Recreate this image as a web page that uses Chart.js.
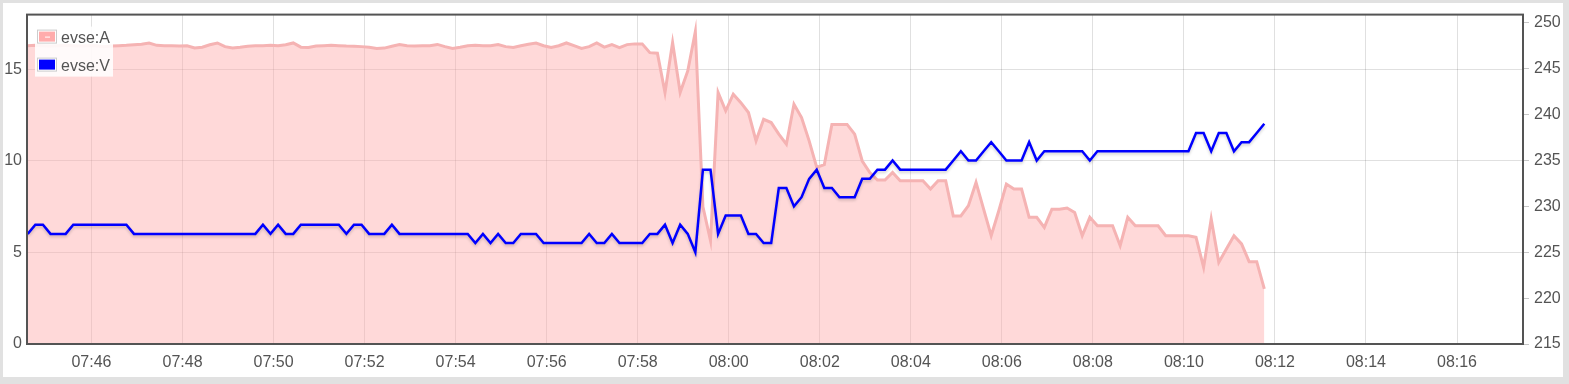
<!DOCTYPE html>
<html>
<head>
<meta charset="utf-8">
<script src="https://cdn.jsdelivr.net/npm/chart.js@4.4.1/dist/chart.umd.min.js"></script>
<style>
  html, body { margin: 0; padding: 0; background: #e1e1e1; width: 1569px; height: 384px; overflow: hidden; }
  #card { position: absolute; left: 3px; top: 3px; width: 1560px; height: 374px; background: #ffffff; }
  #c { position: absolute; left: 0; top: 0; }
</style>
</head>
<body>
<div id="card"></div>
<canvas id="c" width="1569" height="384"></canvas>
<script>
// ---------------- DATA ----------------
const seriesNames = ['evse:A', 'evse:V'];
const startTime = '07:44:36';      // time of first sample
const sampleSeconds = 10;          // sampling interval
const axisStart = '07:44:35';
const axisEnd = '08:17:27';

const ampValues = [
  16.3,16.32,16.3,16.28,16.3,16.32,16.3,16.28,16.3,16.3,
  16.25,16.28,16.3,16.32,16.35,16.38,16.45,16.32,16.3,16.3,
  16.28,16.3,16.18,16.22,16.35,16.45,16.25,16.18,16.22,16.27,
  16.3,16.3,16.32,16.3,16.35,16.45,16.22,16.2,16.28,16.3,
  16.32,16.3,16.28,16.27,16.25,16.22,16.15,16.17,16.27,16.36,
  16.3,16.28,16.3,16.3,16.37,16.25,16.15,16.22,16.3,16.32,
  16.3,16.3,16.36,16.25,16.2,16.3,16.38,16.45,16.3,16.2,
  16.3,16.45,16.3,16.15,16.25,16.45,16.22,16.36,16.2,16.36,
  16.4,16.4,15.92,15.89,13.74,16.47,13.74,14.92,17.07,7.5,
  5.65,13.74,12.74,13.65,13.19,12.65,11.1,12.28,12.1,11.47,
  10.92,13.1,12.37,11.1,9.65,9.8,12.0,12.0,12.0,11.47,
  10.0,9.37,8.96,8.96,9.37,8.92,8.92,8.92,8.92,8.47,
  8.92,8.92,7.0,7.0,7.56,8.83,7.37,5.92,7.28,8.74,
  8.47,8.47,6.92,6.92,6.37,7.37,7.37,7.43,7.19,5.92,
  6.92,6.46,6.46,6.46,5.37,6.92,6.46,6.46,6.46,6.46,
  5.92,5.92,5.92,5.92,5.83,4.19,6.83,4.46,5.19,5.92,
  5.47,4.5,4.5,3.01
];

const voltValues = [
  227,228,228,227,227,227,228,228,228,228,
  228,228,228,228,227,227,227,227,227,227,
  227,227,227,227,227,227,227,227,227,227,
  227,228,227,228,227,227,228,228,228,228,
  228,228,227,228,228,227,227,227,228,227,
  227,227,227,227,227,227,227,227,227,226,
  227,226,227,226,226,227,227,227,226,226,
  226,226,226,226,227,226,226,227,226,226,
  226,226,227,227,228,226,228,227,225,234,
  234,227,229,229,229,227,227,226,226,232,
  232,230,231,233,234,232,232,231,231,231,
  233,233,234,234,235,234,234,234,234,234,
  234,234,235,236,235,235,236,237,236,235,
  235,235,237,235,236,236,236,236,236,236,
  235,236,236,236,236,236,236,236,236,236,
  236,236,236,236,238,238,236,238,238,236,
  237,237,238,239
];

const timeTicks = ['07:46','07:48','07:50','07:52','07:54','07:56','07:58','08:00',
                   '08:02','08:04','08:06','08:08','08:10','08:12','08:14','08:16'];
const ampTicks = [0, 5, 10, 15];
const voltTicks = [215, 220, 225, 230, 235, 240, 245, 250];
const ampRange = [0, 18];
const voltRange = [215, 250.9];

// ---------------- HELPERS ----------------
function toMinutes(s) {
  const p = s.split(':').map(Number);
  return p[0] * 60 + p[1] + (p[2] || 0) / 60;
}
function fmtMinutes(v) {
  const m = Math.round(v);
  const h = Math.floor(m / 60), mm = m % 60;
  return String(h).padStart(2, '0') + ':' + String(mm).padStart(2, '0');
}
const t0 = toMinutes(startTime);
const xs = ampValues.map((_, i) => t0 + i * sampleSeconds / 60);
const ampPts = ampValues.map((v, i) => ({ x: xs[i], y: v }));
const voltPts = voltValues.map((v, i) => ({ x: xs[i], y: v }));

const FONT = "'Liberation Sans', Arial, Helvetica, sans-serif";
const TEXT = '#545454';
const GRID = 'rgba(0,0,0,0.12)';

const setTicks = (arr) => (scale) => { scale.ticks = arr.map(v => ({ value: v })); };

const shadowPlugin = {
  id: 'lineShadow',
  beforeDatasetDraw(chart, args) {
    if (args.meta.yAxisID === 'y1') {
      const ctx = chart.ctx;
      ctx.save();
      ctx.shadowColor = 'rgba(0,0,0,0.18)';
      ctx.shadowBlur = 3;
      ctx.shadowOffsetX = 0;
      ctx.shadowOffsetY = 2;
    }
  },
  afterDatasetDraw(chart, args) {
    if (args.meta.yAxisID === 'y1') chart.ctx.restore();
  }
};

const frameLegendPlugin = {
  id: 'frameLegend',
  afterDatasetsDraw(chart) {
    const { ctx, chartArea: a } = chart;
    ctx.save();
    ctx.strokeStyle = '#545454';
    ctx.lineWidth = 2;
    ctx.strokeRect(a.left, a.top, a.right - a.left, a.bottom - a.top);
    ctx.restore();
  },
  afterDraw(chart) {
    const ctx = chart.ctx;
    const a = chart.chartArea;
    const ds = chart.data.datasets;
    const bx = a.left + 8, by = a.top + 12;
    ctx.save();
    ctx.fillStyle = 'rgba(255,255,255,0.88)';
    ctx.fillRect(bx, by, 78, 50);
    ds.forEach((d, k) => {
      const sy = by + 3 + k * 28;
      ctx.fillStyle = '#ffffff';
      ctx.fillRect(bx + 2, sy, 20, 14);
      ctx.strokeStyle = '#cccccc';
      ctx.lineWidth = 1;
      ctx.strokeRect(bx + 2.5, sy + 0.5, 19, 13);
      ctx.fillStyle = d.legendColor;
      ctx.fillRect(bx + 4, sy + 2, 16, 10);
      if (d.fill) {
        ctx.strokeStyle = '#ffffff';
        ctx.beginPath();
        ctx.moveTo(bx + 10, sy + 7.5);
        ctx.lineTo(bx + 15, sy + 7.5);
        ctx.stroke();
      }
      ctx.fillStyle = TEXT;
      ctx.font = '16px ' + FONT;
      ctx.textBaseline = 'alphabetic';
      ctx.textAlign = 'left';
      ctx.fillText(d.label, bx + 26, sy + 13);
    });
    ctx.restore();
  }
};

new Chart(document.getElementById('c'), {
  type: 'line',
  data: {
    datasets: [
      {
        label: seriesNames[0],
        data: ampPts,
        yAxisID: 'y',
        borderColor: '#f5b3b3',
        borderWidth: 3,
        backgroundColor: 'rgba(255,170,170,0.45)',
        legendColor: '#ffacac',
        fill: 'origin',
        tension: 0,
        pointRadius: 0,
        order: 2
      },
      {
        label: seriesNames[1],
        data: voltPts,
        yAxisID: 'y1',
        borderColor: '#0000ff',
        borderWidth: 2.5,
        legendColor: '#0000ff',
        fill: false,
        tension: 0,
        pointRadius: 0,
        order: 1
      }
    ]
  },
  options: {
    responsive: false,
    animation: false,
    devicePixelRatio: 1,
    layout: { padding: { top: 13, left: 0, right: 0, bottom: 0 } },
    plugins: { legend: { display: false }, tooltip: { enabled: false } },
    scales: {
      x: {
        type: 'linear',
        min: toMinutes(axisStart),
        max: toMinutes(axisEnd),
        afterBuildTicks: setTicks(timeTicks.map(toMinutes)),
        afterFit: (s) => { s.height = 40; },
        ticks: {
          callback: (v) => fmtMinutes(v),
          color: TEXT, font: { family: FONT, size: 16 },
          maxRotation: 0, autoSkip: false, padding: 9
        },
        grid: { color: GRID, drawTicks: false },
        border: { display: false }
      },
      y: {
        position: 'left',
        min: ampRange[0], max: ampRange[1],
        afterBuildTicks: setTicks(ampTicks),
        afterFit: (s) => { s.width = 27; },
        ticks: { color: TEXT, font: { family: FONT, size: 16 }, padding: 5 },
        grid: { color: GRID, drawTicks: false },
        border: { display: false }
      },
      y1: {
        position: 'right',
        min: voltRange[0], max: voltRange[1],
        afterBuildTicks: setTicks(voltTicks),
        afterFit: (s) => { s.width = 46; },
        ticks: { color: TEXT, font: { family: FONT, size: 16 }, padding: 5 },
        grid: { drawOnChartArea: false, drawTicks: true, tickLength: 6, color: 'rgba(0,0,0,0.22)' },
        border: { display: false }
      }
    }
  },
  plugins: [shadowPlugin, frameLegendPlugin]
});
</script>
</body>
</html>
